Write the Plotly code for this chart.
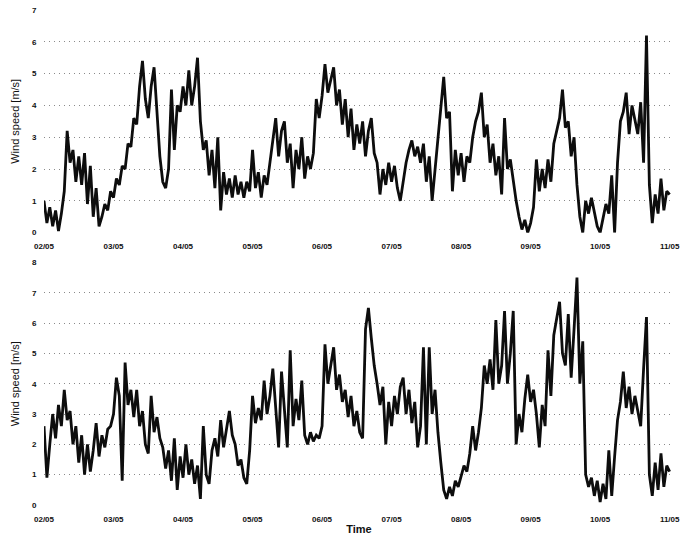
import pandas as pd
import plotly.graph_objects as go

# Hourly wind speed readings (m/s), starting 02/05 00:00
top_speed = [
    # 02/05
    1.0, 0.3, 0.8, 0.2, 0.7, 0.05, 0.6, 1.3, 3.2, 2.2, 2.6, 1.6,
    2.4, 1.5, 2.5, 0.9, 2.1, 0.5, 1.4, 0.2, 0.5, 0.9, 0.7, 1.3,
    # 03/05
    1.1, 1.7, 1.5, 2.1, 2.0, 2.8, 2.7, 3.6, 3.4, 4.6, 5.4, 4.2,
    3.6, 4.6, 5.2, 3.6, 2.4, 1.6, 1.4, 2.0, 4.5, 2.6, 4.0, 3.8,
    # 04/05
    4.6, 4.0, 5.1, 4.0, 4.6, 5.5, 3.5, 2.6, 2.9, 1.8, 2.6, 1.4,
    3.0, 0.7, 1.9, 1.2, 1.7, 1.1, 1.8, 1.2, 1.6, 1.1, 1.6, 1.3,
    # 05/05
    2.6, 1.4, 1.9, 1.1, 1.8, 1.5, 2.2, 2.8, 3.6, 2.4, 3.2, 3.5,
    2.2, 2.8, 1.4, 2.6, 2.0, 3.0, 1.7, 2.4, 2.0, 2.5, 4.2, 3.6,
    # 06/05
    4.3, 5.3, 4.4, 4.8, 5.2, 4.0, 4.5, 3.4, 4.2, 3.0, 3.9, 2.6,
    3.4, 2.8, 3.5, 2.4, 3.2, 3.6, 2.5, 2.2, 1.2, 2.0, 1.5, 2.2,
    # 07/05
    1.6, 2.1, 1.4, 1.0, 1.6, 2.2, 2.6, 2.9, 2.4, 2.7, 2.2, 2.8,
    1.6, 2.4, 1.0, 2.0, 2.8, 4.0, 4.9, 3.6, 3.8, 1.3, 2.6, 1.8,
    # 08/05
    2.5, 1.6, 2.4, 2.2, 3.0, 3.5, 3.8, 4.4, 3.0, 3.4, 2.2, 2.8,
    1.8, 2.4, 1.2, 3.6, 2.0, 2.3, 1.6, 1.0, 0.5, 0.1, 0.4, 0.0,
    # 09/05
    0.3, 0.8, 2.3, 1.3, 2.0, 1.4, 2.3, 1.6, 2.8, 3.2, 3.6, 4.5,
    3.3, 3.5, 2.4, 3.0, 1.5, 0.5, 0.0, 1.0, 0.6, 1.1, 0.7, 0.2,
    # 10/05
    0.0, 0.5, 0.9, 0.6, 1.8, 0.0, 2.2, 3.5, 3.8, 4.4, 3.1, 4.0,
    3.5, 3.1, 4.1, 2.2, 6.2, 1.5, 0.3, 1.2, 0.6, 1.7, 0.7, 1.3,
    # 11/05
    1.2,
]

bottom_speed = [
    # 02/05
    2.6, 0.9, 2.0, 3.0, 2.2, 3.3, 2.6, 3.8, 2.8, 3.1, 2.0, 2.6,
    1.4, 2.3, 1.0, 2.0, 1.1, 1.8, 2.7, 1.6, 2.3, 1.9, 2.5, 2.6,
    # 03/05
    3.0, 4.2, 3.6, 0.8, 4.7, 3.3, 3.8, 2.9, 3.8, 2.6, 3.1, 2.0,
    1.7, 3.6, 2.4, 2.9, 2.2, 1.9, 1.2, 1.8, 0.8, 2.2, 0.5, 1.6,
    # 04/05
    0.9, 2.0, 1.0, 1.5, 0.7, 1.3, 0.2, 2.6, 1.0, 0.7, 1.8, 2.2,
    1.6, 2.8, 1.9, 2.5, 3.1, 2.3, 2.0, 1.3, 1.5, 0.9, 0.7, 1.8,
    # 05/05
    3.6, 2.7, 3.2, 2.8, 4.1, 3.0, 3.6, 4.5, 3.2, 1.9, 4.4, 3.0,
    1.9, 5.1, 2.6, 3.5, 2.8, 4.1, 2.3, 2.0, 2.4, 2.1, 2.3, 2.2,
    # 06/05
    2.6, 5.3, 4.0, 4.6, 5.2, 3.8, 4.3, 3.4, 3.8, 2.9, 3.6, 2.6,
    3.1, 2.4, 2.2, 5.8, 6.5, 5.5, 4.6, 4.0, 3.3, 3.9, 2.0, 3.4,
    # 07/05
    2.6, 3.6, 3.0, 3.9, 4.2, 3.0, 3.8, 2.7, 3.4, 1.9, 2.6, 5.2,
    2.0, 5.2, 3.0, 3.8, 2.4, 1.4, 0.5, 0.2, 0.6, 0.3, 0.8, 0.6,
    # 08/05
    1.0, 1.3, 1.1, 1.7, 2.6, 1.8, 2.4, 3.2, 4.6, 4.0, 4.8, 3.8,
    6.1, 4.0, 4.6, 6.4, 4.0, 5.0, 6.4, 2.0, 3.0, 2.4, 3.5, 4.3,
    # 09/05
    3.4, 3.8, 3.0, 1.9, 3.3, 2.6, 5.1, 3.6, 5.6, 6.2, 6.7, 5.0,
    4.6, 6.3, 4.2, 5.8, 7.5, 4.0, 5.4, 1.0, 0.6, 0.9, 0.3, 0.8,
    # 10/05
    0.1, 0.7, 0.2, 1.8, 0.3, 1.6, 2.8, 3.4, 4.4, 3.2, 3.9, 3.0,
    3.6, 3.1, 2.6, 4.5, 6.2, 1.0, 0.3, 1.4, 0.5, 1.7, 0.6, 1.3,
    # 11/05
    1.1,
]

start_time = "2005-05-02 00:00"
day_ticks = pd.date_range("2005-05-02", "2005-05-11", freq="D")
tick_labels = [d.strftime("%d/%m") for d in day_ticks]

top_time = pd.date_range(start_time, periods=len(top_speed), freq="h")
bottom_time = pd.date_range(start_time, periods=len(bottom_speed), freq="h")

fig = go.Figure()
line_style = dict(color="#0d0d0d", width=2.8)
fig.add_trace(go.Scatter(x=top_time, y=top_speed, mode="lines", line=line_style,
                         xaxis="x", yaxis="y", showlegend=False))
fig.add_trace(go.Scatter(x=bottom_time, y=bottom_speed, mode="lines", line=line_style,
                         xaxis="x2", yaxis="y2", showlegend=False))

font_family = "Liberation Sans, Arial, sans-serif"
tick_font = dict(family=font_family, size=8, color="#111111", weight="bold")
x_range = ["2005-05-02 00:00", "2005-05-11 01:30"]

xcommon = dict(range=x_range, tickvals=day_ticks, ticktext=tick_labels,
               showgrid=False, zeroline=False, showline=False,
               ticks="outside", ticklen=6, tickcolor="rgba(0,0,0,0)",
               tickfont=tick_font)
ycommon = dict(dtick=1, showgrid=True, gridcolor="#8a8a8a", griddash="1px,4px",
               gridwidth=1, zeroline=False, showline=False,
               ticks="outside", ticklen=5, tickcolor="rgba(0,0,0,0)",
               tickfont=tick_font,
               title=dict(text="Wind speed [m/s]", standoff=10,
                          font=dict(family=font_family, size=11, color="#111111")))

fig.update_layout(
    width=686, height=544,
    margin=dict(l=44, r=6, t=7, b=39),
    paper_bgcolor="white", plot_bgcolor="white",
    xaxis=dict(anchor="y", **xcommon),
    yaxis=dict(domain=[0.5502, 1.0], range=[0, 7], anchor="x", **ycommon),
    xaxis2=dict(anchor="y2", **xcommon,
                title=dict(text="Time", standoff=2,
                           font=dict(family=font_family, size=11, color="#111111",
                                     weight="bold"))),
    yaxis2=dict(domain=[0.0, 0.49], range=[0, 8], anchor="x2", **ycommon),
)

fig.write_html("out.html")
